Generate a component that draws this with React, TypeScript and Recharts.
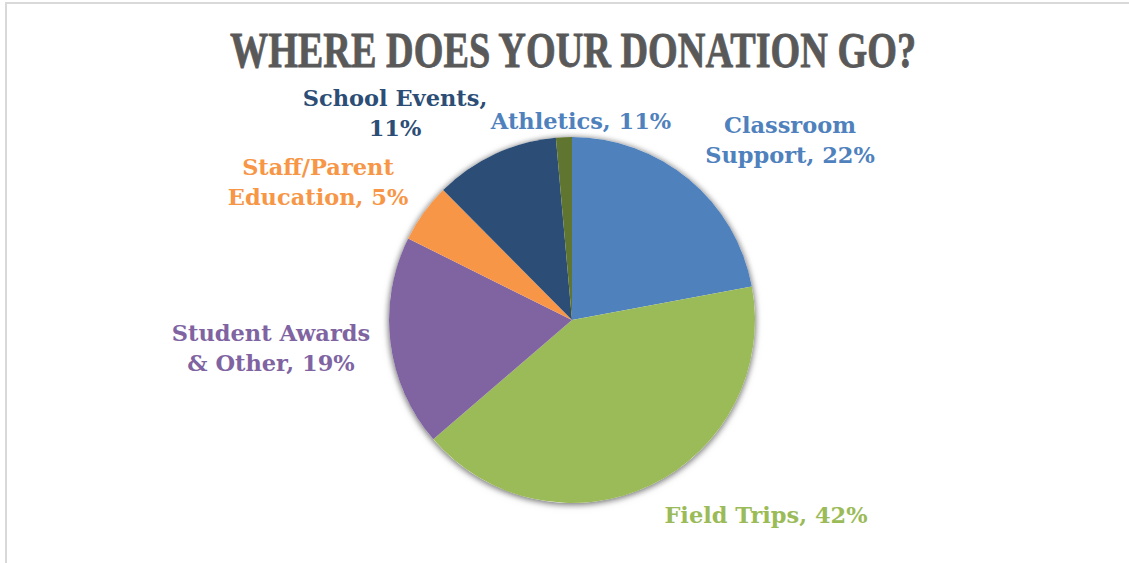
import React from "react";
import { PieChart, Pie, Cell } from "recharts";

const categories = ["Classroom Support", "Field Trips", "Student Awards & Other", "Staff/Parent Education", "School Events", "Athletics"];
const values = [22, 41.5, 18.6, 5.2, 11, 1.4];
const labelLines = [
  ["Classroom", "Support, 22%"],
  ["Field Trips, 42%"],
  ["Student Awards", "& Other, 19%"],
  ["Staff/Parent", "Education, 5%"],
  ["School Events,", "11%"],
  ["Athletics, 11%"],
];
const colors = ["#4F81BD", "#9BBB59", "#8064A2", "#F79646", "#2C4D75", "#5F7530"];
const labelColors = ["#4F81BD", "#9BBB59", "#8064A2", "#F79646", "#2C4D75", "#4F81BD"];

const data = categories.map((name, i) => ({ name, value: values[i] }));
const total = [{ name: "all", value: values.reduce((a, b) => a + b, 0) }];

// label block centres, relative to the pie centre
const LABEL_OFFSETS: [number, number][] = [
  [218, -180],
  [194, 195],
  [-301, 28],
  [-254, -138],
  [-177, -207],
  [9, -199],
];
const LINE_H = 30;
const FONT = "'DejaVu Serif', serif";

function renderLabel(props: any) {
  const { cx, cy, index } = props;
  const lines = labelLines[index];
  const [dx, dy] = LABEL_OFFSETS[index];
  const top = cy + dy - ((lines.length - 1) * LINE_H) / 2;
  return (
    <text
      key={index}
      textAnchor="middle"
      dominantBaseline="central"
      fill={labelColors[index]}
      fontFamily={FONT}
      fontWeight="bold"
      fontSize={22.5}
    >
      {lines.map((l, j) => (
        <tspan key={j} x={cx + dx} y={top + j * LINE_H}>
          {l}
        </tspan>
      ))}
    </text>
  );
}

export default function App() {
  return (
    <div style={{ position: "absolute", left: 0, top: 0, width: 1129, height: 563, background: "#fff" }}>
      <style>{`.pieShadow { filter: drop-shadow(0px 1px 3px rgba(0,0,0,0.35)); }`}</style>
      <div style={{ position: "absolute", left: 5, top: 2, right: 0, bottom: 0, borderTop: "2px solid #d9d9d9", borderLeft: "2px solid #d9d9d9" }} />
      <PieChart
        width={1129}
        height={563}
        margin={{ top: 0, right: 0, bottom: 0, left: 0 }}
        style={{ position: "absolute", left: 0, top: 0 }}
      >
        <g transform="translate(573,67) scale(0.75,1)">
          <text
            x={0}
            y={0}
            textAnchor="middle"
            fill="#595959"
            stroke="#595959"
            strokeWidth={0.8}
            fontFamily="'Liberation Serif', serif"
            fontWeight="bold"
            fontSize={51}
          >
            WHERE DOES YOUR DONATION GO?
          </text>
        </g>
        <Pie
          data={total}
          dataKey="value"
          cx={572}
          cy={320}
          outerRadius={183}
          startAngle={90}
          endAngle={-270}
          fill="#ffffff"
          stroke="none"
          className="pieShadow"
          isAnimationActive={false}
          label={false}
          labelLine={false}
        />
        <Pie
          data={data}
          dataKey="value"
          nameKey="name"
          cx={572}
          cy={320}
          outerRadius={183}
          startAngle={90}
          endAngle={-270}
          stroke="none"
          isAnimationActive={false}
          label={renderLabel}
          labelLine={false}
        >
          {data.map((d, i) => (
            <Cell key={d.name} fill={colors[i]} />
          ))}
        </Pie>
      </PieChart>
    </div>
  );
}
